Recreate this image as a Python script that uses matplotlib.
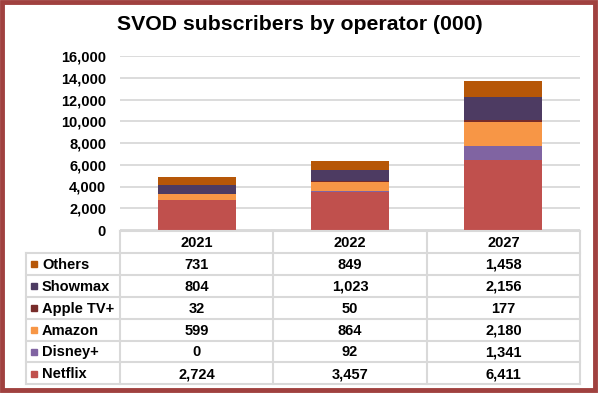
import matplotlib.pyplot as plt
from matplotlib.patches import Rectangle
from matplotlib.ticker import FuncFormatter

plt.rcParams['font.family'] = ['Liberation Sans', 'DejaVu Sans']
plt.rcParams['font.weight'] = 'bold'

# --- Data ---
years = ['2021', '2022', '2027']
netflix = [2724, 3457, 6411]
disney = [0, 92, 1341]
amazon = [599, 864, 2180]
apple = [32, 50, 177]
showmax = [804, 1023, 2156]
others = [731, 849, 1458]

# stacking order, bottom to top
series = [
    ('Netflix', netflix, '#C0504D'),
    ('Disney+', disney, '#8064A2'),
    ('Amazon', amazon, '#F79646'),
    ('Apple TV+', apple, '#772C2A'),
    ('Showmax', showmax, '#4D3B62'),
    ('Others', others, '#B65708'),
]

W, H = 600, 396
fig = plt.figure(figsize=(W / 100, H / 100), dpi=100)

# plot area in pixel terms
x0, x1 = 120, 580
y_top, y_zero = 56, 230
ax = fig.add_axes([x0 / W, (H - y_zero) / H, (x1 - x0) / W, (y_zero - y_top) / H])

bottom = [0, 0, 0]
xs = range(len(years))
for name, vals, col in series:
    ax.bar(xs, vals, width=0.51, bottom=bottom, color=col, zorder=3)
    bottom = [b + v for b, v in zip(bottom, vals)]

ax.set_xlim(-0.5, 2.5)
ax.set_ylim(0, 16000)
ax.set_yticks(range(0, 16001, 2000))
ax.yaxis.set_major_formatter(FuncFormatter(lambda v, p: f'{int(v):,}'))
ax.tick_params(axis='y', length=0, pad=10, labelsize=10.5)
ax.set_xticks([])
ax.yaxis.grid(True, color='#D9D9D9', lw=1.3)
ax.set_axisbelow(True)
for s in ax.spines.values():
    s.set_visible(False)

# --- overlay in pixel coords for table, title and border ---
ov = fig.add_axes([0, 0, 1, 1])
ov.set_xlim(0, W)
ov.set_ylim(H, 0)
ov.axis('off')

ov.text(300, 25, 'SVOD subscribers by operator (000)', ha='center', va='center',
        fontsize=15.3, fontweight='bold')

grid_c = '#D9D9D9'
col_w = (x1 - x0) / len(years)
col_edges = [x0 + i * col_w for i in range(len(years) + 1)]
row_h = 21.9
t_top = 231
head_bot = t_top + row_h
label_x0 = 26
n_rows = len(series)
t_bot = head_bot + n_rows * row_h

# header row
ov.plot([x0, x1], [t_top, t_top], color=grid_c, lw=1.5)
for cx in col_edges:
    ov.plot([cx, cx], [t_top, t_bot], color=grid_c, lw=1.5)
ov.plot([label_x0, label_x0], [head_bot, t_bot], color=grid_c, lw=1.5)
for i in range(n_rows + 1):
    yy = head_bot + i * row_h
    ov.plot([label_x0, x1], [yy, yy], color=grid_c, lw=1.5)

for j, yr in enumerate(years):
    ov.text(col_edges[j] + col_w / 2, t_top + row_h / 2 + 1, yr, ha='center', va='center',
            fontsize=10.5, fontweight='bold')

# body rows, top row is the top of the stack
for i, (name, vals, col) in enumerate(reversed(series)):
    yc = head_bot + i * row_h + row_h / 2 + 1
    ov.add_patch(Rectangle((31, yc - 3.5), 6, 6, color=col))
    ov.text(42, yc, name, ha='left', va='center', fontsize=10.5, fontweight='bold')
    for j, v in enumerate(vals):
        ov.text(col_edges[j] + col_w / 2, yc, f'{v:,}', ha='center', va='center',
                fontsize=10.5, fontweight='bold')

# frame around the whole chart
ov.add_patch(Rectangle((1.5, 1.5), 593, 388, fill=False, edgecolor='#A0413F', lw=3.5))

fig.savefig('out.png', dpi=100)
